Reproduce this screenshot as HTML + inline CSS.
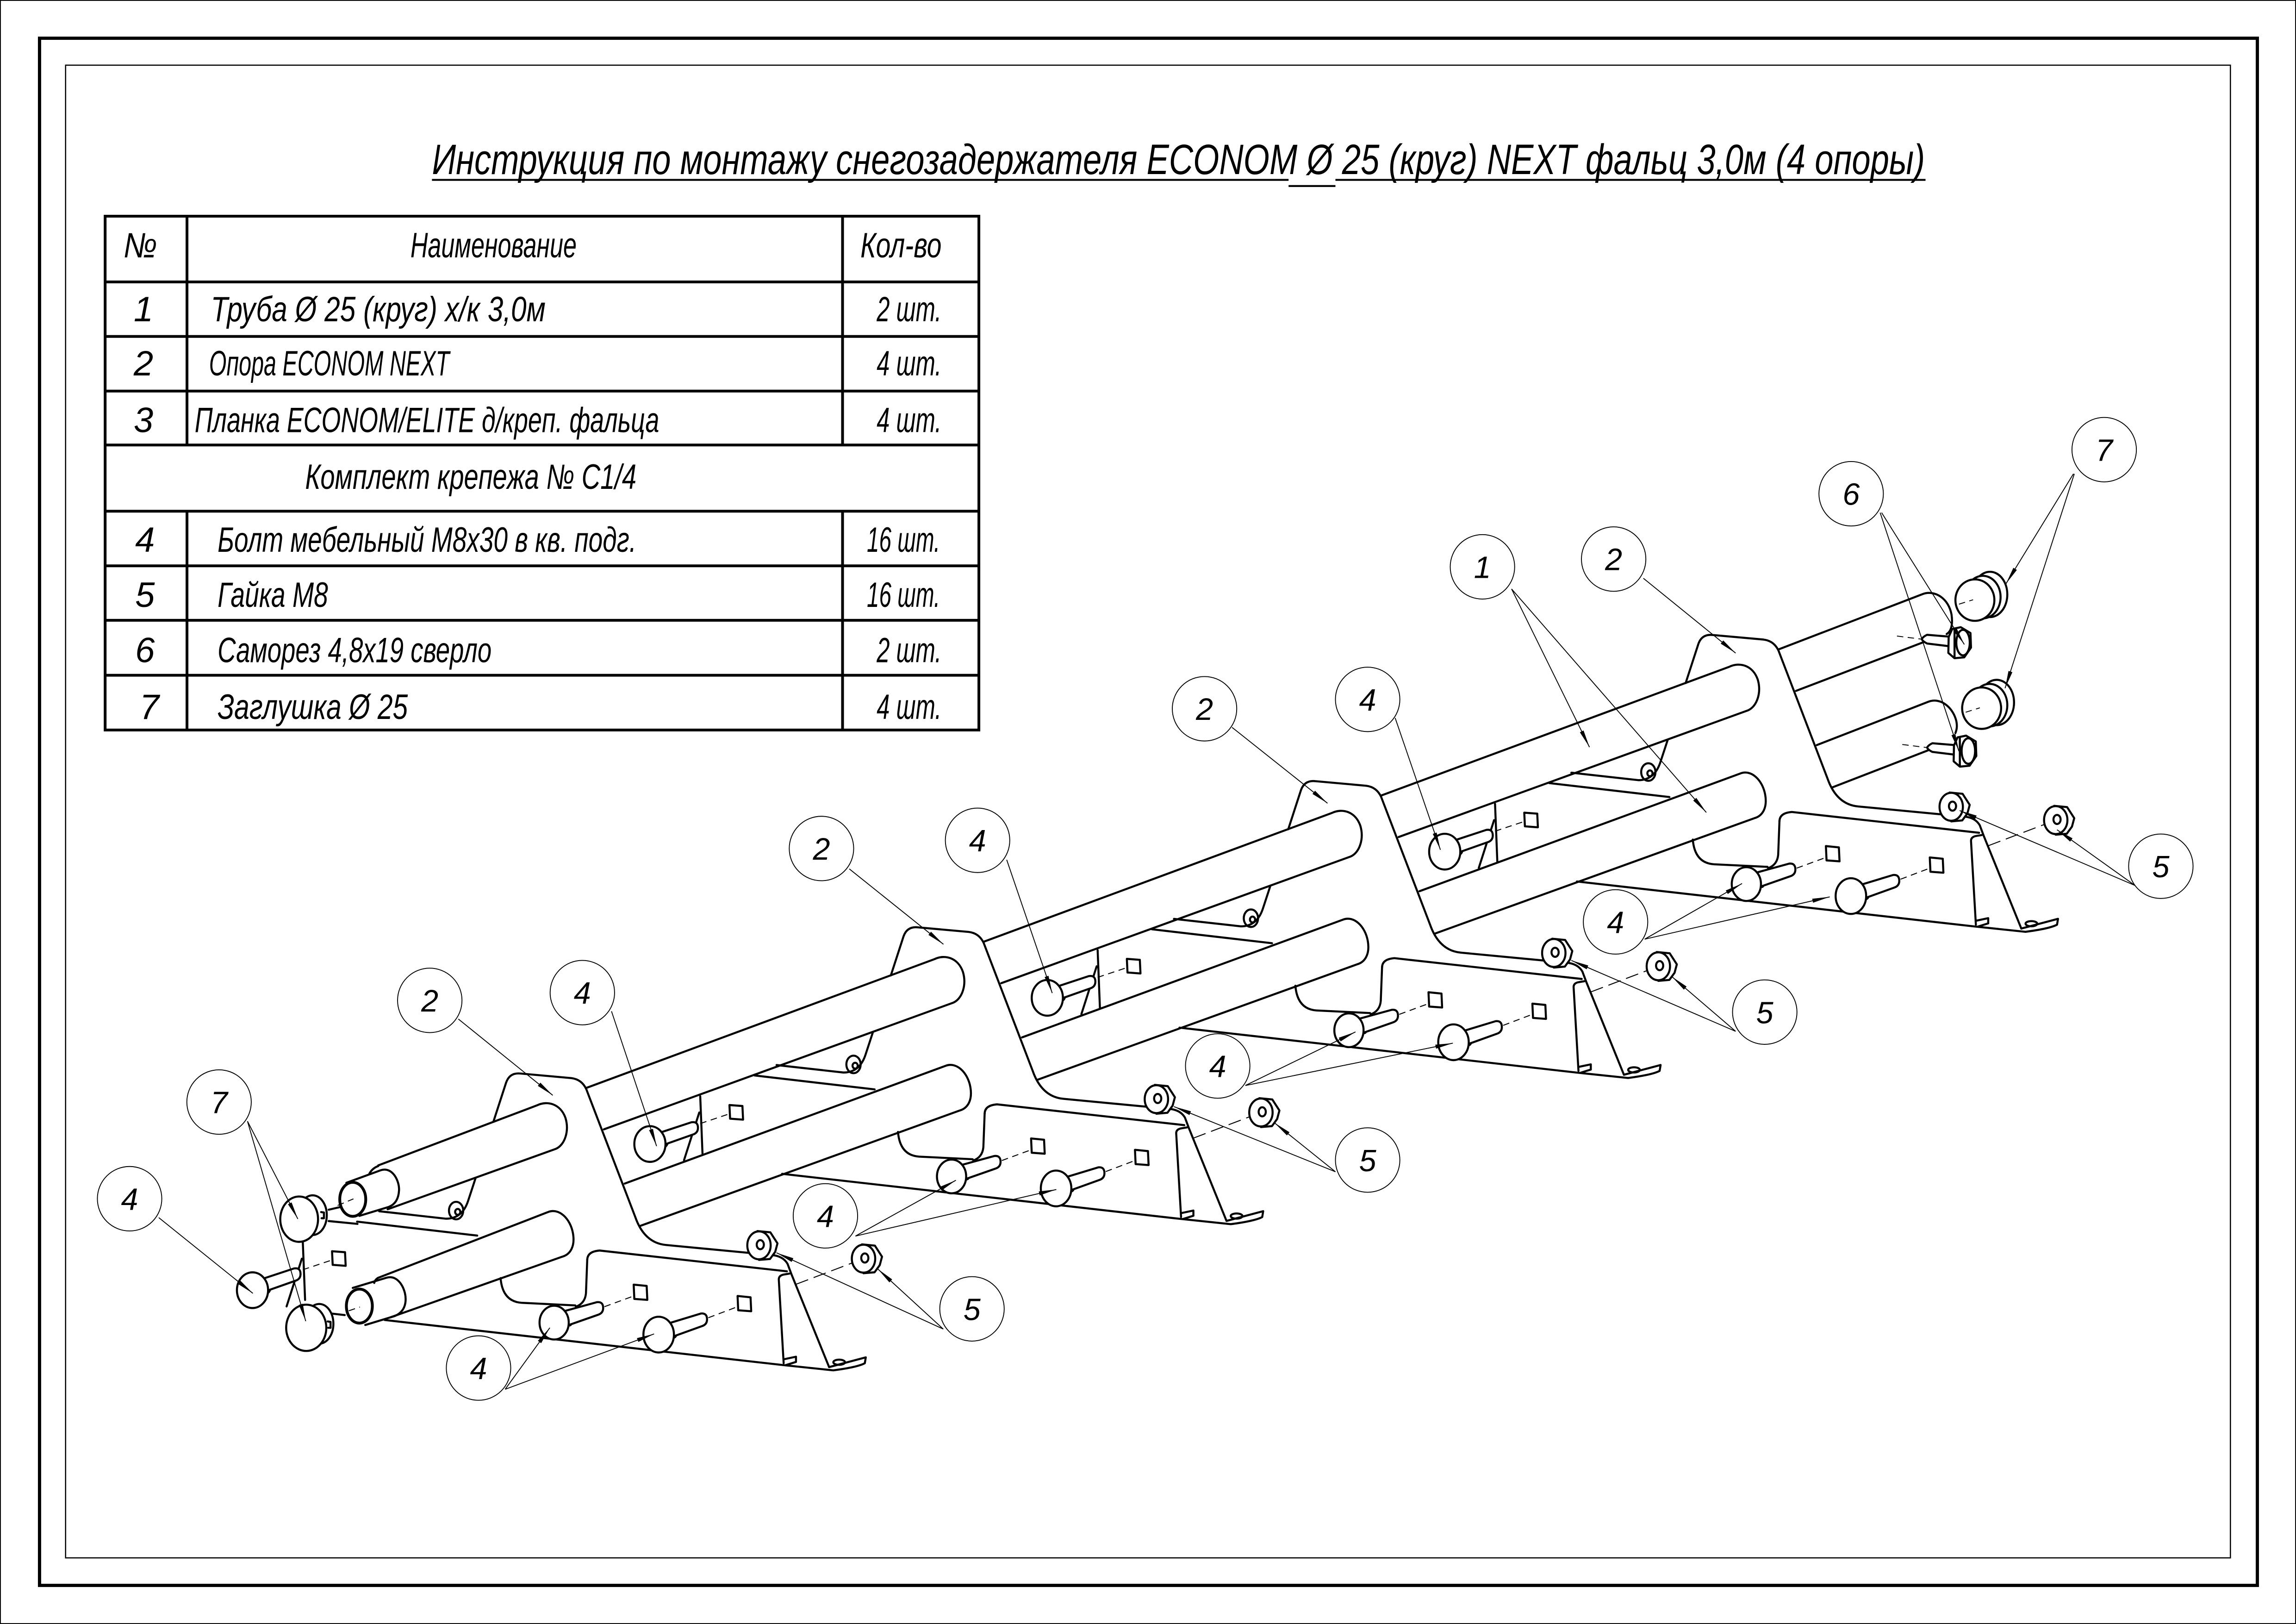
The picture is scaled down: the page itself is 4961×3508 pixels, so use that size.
<!DOCTYPE html>
<html><head><meta charset="utf-8">
<style>
html,body{margin:0;padding:0;background:#fff}
svg{display:block}
.t{fill:none;stroke:#000;stroke-width:6.3;stroke-linecap:round;stroke-linejoin:round}
.w{fill:#fff;stroke:#000;stroke-width:6.3;stroke-linejoin:round}
.d{fill:none;stroke:#000;stroke-width:3;stroke-dasharray:20 14}
.dl{fill:none;stroke:#000;stroke-width:3;stroke-dasharray:40 18}
.t8{fill:none;stroke:#000;stroke-width:8.7;stroke-linecap:round;stroke-linejoin:round}
.w8{fill:#fff;stroke:#000;stroke-width:8.7;stroke-linejoin:round}
.d8{fill:none;stroke:#000;stroke-width:4;stroke-dasharray:28 19}
.t9{fill:none;stroke:#000;stroke-width:11.6;stroke-linecap:round;stroke-linejoin:round}
.w9{fill:#fff;stroke:#000;stroke-width:11.6;stroke-linejoin:round}
.d9{fill:none;stroke:#000;stroke-width:5;stroke-dasharray:36 25}
.ld{fill:none;stroke:#000;stroke-width:0.6}
.lc{fill:none;stroke:#000;stroke-width:0.6}
.tb{fill:none;stroke:#000;stroke-width:1.9}
text{font-family:"Liberation Sans","DejaVu Sans",sans-serif;font-style:italic;fill:#000}
</style></head><body>
<svg xmlns="http://www.w3.org/2000/svg" width="4961" height="3508" viewBox="0 0 1568 1108.75" preserveAspectRatio="none">
<defs>
<marker id="a" markerUnits="userSpaceOnUse" markerWidth="12" markerHeight="4" refX="12" refY="2" orient="auto" viewBox="0 0 12 4" overflow="visible"><path d="M0,0.6 L12,2 L0,3.4 Z" fill="#000"/></marker>
<g id="uL">
<path class="t" d="M218,666 L257,546 Q268,514 302,518 L458,532 Q490,536 504,566 L655,960 Q683,1040 750,1046 L1076,1077 Q1110,1080 1124,1104 L1136,1136 L1252,1422"/>
<path class="t" d="M163,840 L140,910 Q122,965 72,965 L-134,942"/>
<path class="t" d="M-202,974 L168,1017"/>
<path class="t" d="M240,1148 Q246,1220 305,1224 L470,1232"/>
<path class="t" d="M507,1092 Q507,1066 545,1063 L1122,1127"/>
<path class="t" d="M507,1090 L503,1195 Q500,1226 472,1236"/>
<path class="t" d="M-117,1277 L1112,1416 L1265,1432 Q1340,1422 1362,1410 L1365,1392 L1252,1422"/>
<ellipse class="t" cx="1283" cy="1407" rx="18" ry="8"/>
<path class="t" d="M1112,1410 L1097,1152 Q1097,1140 1112,1137 L1130,1134"/>
<path class="t" d="M1112,1398 L1150,1390 L1150,1406 L1118,1416"/>
<path class="t" d="M650,1168 L690,1172 L692,1215 L652,1212 Z"/>
<path class="t" d="M970,1203 L1010,1207 L1012,1250 L972,1247 Z"/>
<ellipse class="t" cx="103" cy="940" rx="22" ry="27"/>
<ellipse class="t" cx="108" cy="944" rx="8" ry="9"/>
<path class="d" d="M560,1236 L650,1203 M880,1270 L970,1236"/>
<path class="dl" d="M1150,1167 L1358,1088"/>
<path class="d" d="M1000,1068 L1036,1047"/>
</g>
<g id="nut">
<path class="w" d="M-5,-44 L35,-40 L57,-6 L50,20 L34,42 L0,45 Z"/>
<ellipse class="w" cx="0" cy="0" rx="36" ry="43"/>
<ellipse class="t" cx="4" cy="-2" rx="11" ry="14"/>
</g>
<g id="uF">
<ellipse class="t" cx="452" cy="1272" rx="10" ry="22"/>
<path class="w" d="M435,1250 L537,1222 Q556,1220 556,1240 Q556,1256 540,1261 L440,1296 Z"/>
<ellipse class="w" cx="405" cy="1285" rx="45" ry="52"/>
<ellipse class="t" cx="774" cy="1309" rx="10" ry="22"/>
<path class="w" d="M755,1288 L857,1257 Q876,1255 876,1275 Q876,1291 860,1296 L760,1332 Z"/>
<ellipse class="w" cx="727" cy="1322" rx="47" ry="55"/>
<use href="#nut" transform="translate(1036,1047)"/>
<use href="#nut" transform="translate(1358,1088)"/>
</g>
<g id="seg">
<path class="t" d="M-719,1012 L352,616 C385,600 425,612 440,655 C452,695 438,738 410,750 L-666,1140"/>
<path class="t" d="M-602,1307 L385,945 C420,930 455,965 463,1010 C470,1050 455,1075 430,1082 L-556,1438"/>
</g>
<g id="bb">
<path class="t" d="M855,588 L862,765"/>
<path class="t" d="M852,638 L805,785"/>
<path class="d" d="M855,672 L945,642"/>
<path class="t" d="M945,615 L985,618 L987,660 L947,657 Z"/>
<ellipse class="t" cx="746" cy="721" rx="10" ry="22"/>
<path class="w" d="M725,702 L828,668 Q848,665 848,685 Q848,701 832,706 L730,742 Z"/>
<ellipse class="w" cx="700" cy="735" rx="48" ry="55"/>
</g>
<g id="scr">
<path class="d9" d="M520,585 L655,602"/>
<path class="w9" d="M690,578 L812,588 L812,642 L690,627 Q664,614 660,602 Q668,588 690,578 Z"/>
<path class="w9" d="M812,590 L832,545 L880,535 L935,568 L938,650 L900,705 L845,710 L810,680 Z"/>
<path class="t9" d="M845,550 L845,708"/>
<ellipse class="t9" cx="893" cy="622" rx="38" ry="72"/>
</g>
<g id="cap">
<ellipse class="w9" cx="1045" cy="350" rx="98" ry="128"/>
<ellipse class="w9" cx="1005" cy="365" rx="100" ry="120"/>
<ellipse class="w9" cx="960" cy="382" rx="110" ry="117"/>
<path class="d9" d="M870,405 L950,380"/>
</g>
</defs>

<!-- frame -->
<rect x="0.3" y="0.3" width="1567.4" height="1108.15" fill="none" stroke="#000" stroke-width="0.6"/>
<rect x="27" y="26.1" width="1514.6" height="1056.3" fill="none" stroke="#000" stroke-width="2.2"/>
<rect x="44.8" y="44.5" width="1478.4" height="1019.1" fill="none" stroke="#000" stroke-width="0.8"/>

<!-- title -->
<text x="295" y="118.8" font-size="29" textLength="1019.6" lengthAdjust="spacingAndGlyphs">Инструкция по монтажу снегозадержателя ECONOM Ø 25 (круг) NEXT фальц 3,0м (4 опоры)</text>
<path d="M295,122.8 H880 M912,122.8 H1315 M880,127 H912" stroke="#000" stroke-width="1.3" fill="none"/>

<!-- table -->
<rect class="tb" x="71.8" y="147.6" width="596.7" height="350.8"/>
<path class="tb" d="M71.8,192.5 H668.5 M71.8,229.7 H668.5 M71.8,267 H668.5 M71.8,303.8 H668.5 M71.8,349 H668.5 M71.8,386.3 H668.5 M71.8,423.5 H668.5 M71.8,461 H668.5 M127.7,147.6 V303.8 M575.4,147.6 V303.8 M127.7,349 V498.4 M575.4,349 V498.4"/>
<g font-size="24">
<text x="84.3" y="175.8" textLength="23" lengthAdjust="spacingAndGlyphs">№</text>
<text x="280.3" y="175.8" textLength="113.5" lengthAdjust="spacingAndGlyphs">Наименование</text>
<text x="587.6" y="175.8" textLength="55.4" lengthAdjust="spacingAndGlyphs">Кол-во</text>
<text x="98" y="219.3" text-anchor="middle">1</text>
<text x="144" y="219.3" textLength="228.6" lengthAdjust="spacingAndGlyphs">Труба Ø 25 (круг) х/к 3,0м</text>
<text x="598.7" y="219.3" textLength="44.3" lengthAdjust="spacingAndGlyphs">2 шт.</text>
<text x="98" y="256.4" text-anchor="middle">2</text>
<text x="142.8" y="256.4" textLength="164.1" lengthAdjust="spacingAndGlyphs">Опора ECONOM NEXT</text>
<text x="598.7" y="256.4" textLength="44.3" lengthAdjust="spacingAndGlyphs">4 шт.</text>
<text x="98" y="295.1" text-anchor="middle">3</text>
<text x="133" y="295.1" textLength="317.2" lengthAdjust="spacingAndGlyphs">Планка ECONOM/ELITE д/креп. фальца</text>
<text x="598.7" y="295.1" textLength="44.3" lengthAdjust="spacingAndGlyphs">4 шт.</text>
<text x="208.4" y="333.8" textLength="226.2" lengthAdjust="spacingAndGlyphs">Комплект крепежа № С1/4</text>
<text x="99" y="376.7" text-anchor="middle">4</text>
<text x="148.6" y="376.7" textLength="286" lengthAdjust="spacingAndGlyphs">Болт мебельный М8х30 в кв. подг.</text>
<text x="592" y="376.7" textLength="50" lengthAdjust="spacingAndGlyphs">16 шт.</text>
<text x="99" y="414.4" text-anchor="middle">5</text>
<text x="148.6" y="414.4" textLength="75.4" lengthAdjust="spacingAndGlyphs">Гайка М8</text>
<text x="592" y="414.4" textLength="50" lengthAdjust="spacingAndGlyphs">16 шт.</text>
<text x="99" y="452.2" text-anchor="middle">6</text>
<text x="148.6" y="452.2" textLength="187.1" lengthAdjust="spacingAndGlyphs">Саморез 4,8х19 сверло</text>
<text x="598.7" y="452.2" textLength="44.3" lengthAdjust="spacingAndGlyphs">2 шт.</text>
<text x="102" y="490.8" text-anchor="middle">7</text>
<text x="148.6" y="490.8" textLength="129.9" lengthAdjust="spacingAndGlyphs">Заглушка Ø 25</text>
<text x="598.7" y="490.8" textLength="44.3" lengthAdjust="spacingAndGlyphs">4 шт.</text>
</g>

<!-- ===== drawing: lines ===== -->
<g transform="translate(288.65,618.1) scale(0.2217)">
<use href="#uL"/>
<path class="t" d="M-137,801 L352,616 C385,600 425,612 440,655 C452,695 438,738 410,750 L-108,936"/>
<path class="t" d="M-137,1147 L385,945 C420,930 455,965 463,1010 C470,1050 455,1075 430,1082 L-100,1269"/>
</g>
<g transform="translate(560.05,518.3) scale(0.2217)"><use href="#uL"/><use href="#seg"/></g>
<g transform="translate(831.45,418.5) scale(0.2217)"><use href="#uL"/><use href="#seg"/></g>
<g transform="translate(1102.85,318.7) scale(0.2217)"><use href="#uL"/><use href="#seg"/>
<path class="t" d="M505,562 L948,392 C985,378 1028,405 1037,455 C1042,490 1034,508 1022,515"/>
<path class="t" d="M558,690 L956,538"/>
<path class="t" d="M622,857 L967,723 C1003,710 1040,740 1051,780 C1056,800 1052,812 1049,820"/>
<path class="t" d="M668,988 L978,868"/>
</g>

<!-- left end lines -->
<g transform="translate(142.22,711.1) scale(0.16125)">
<path class="t8" d="M720,527 Q695,536 682,560"/>
<path class="t8" d="M720,1000 Q706,1008 703,1022"/>
<path class="t8" d="M585,598 L730,545 C780,528 810,590 808,630 C806,668 790,690 765,700 L640,738"/>
<path class="t8" d="M612,1043 L755,1000 C805,985 836,1048 836,1090 C836,1130 815,1152 790,1162 L665,1200"/>
<path class="t8" d="M510,712 L562,700 M525,1152 L578,1158 M510,760 L632,772"/>
<ellipse class="w8" cx="612" cy="668" rx="55" ry="72" style="stroke-width:12"/>
<ellipse class="w8" cx="640" cy="1120" rx="55" ry="72" style="stroke-width:12"/>
<path class="d8" d="M548,694 L615,666 M595,1140 L642,1124"/>
</g>

<!-- ===== filled parts ===== -->
<g transform="translate(17.25,717.9) scale(0.2217)"><use href="#bb"/></g>
<g transform="translate(288.65,618.1) scale(0.2217)"><use href="#bb"/><use href="#uF"/></g>
<g transform="translate(560.05,518.3) scale(0.2217)"><use href="#bb"/><use href="#uF"/></g>
<g transform="translate(831.45,418.5) scale(0.2217)"><use href="#bb"/><use href="#uF"/></g>
<g transform="translate(1102.85,318.7) scale(0.2217)"><use href="#uF"/></g>

<!-- left caps -->
<g transform="translate(142.22,711.1) scale(0.16125)">
<ellipse class="w8" cx="442" cy="735" rx="60" ry="84"/>
<path class="t8" d="M478,722 L490,724 L490,748 L480,748"/>
<ellipse class="w8" cx="385" cy="752" rx="80" ry="96"/>
<ellipse class="w8" cx="470" cy="1195" rx="60" ry="84"/>
<path class="t8" d="M506,1185 L518,1187 L518,1212 L508,1212"/>
<ellipse class="w8" cx="415" cy="1212" rx="85" ry="98"/>
</g>

<!-- right end: screws and caps -->
<g transform="translate(1232.6,363.5) scale(0.12095)">
<use href="#scr"/>
<g transform="translate(30,612)"><use href="#scr"/></g>
<use href="#cap"/>
<g transform="translate(38,610)"><use href="#cap"/></g>
</g>

<!-- ===== leaders ===== -->
<g class="ld" marker-end="url(#a)">
<path class="ld" marker-end="url(#a)" d="M169,765.5 L203.4,832.2"/>
<path class="ld" marker-end="url(#a)" d="M169,765.5 L208.8,902"/>
<path class="ld" marker-end="url(#a)" d="M108.4,831.3 L172.7,883"/>
<path class="ld" marker-end="url(#a)" d="M313,695.7 L377.5,747.8"/>
<path class="ld" marker-end="url(#a)" d="M417.6,690.4 L448.4,782.5"/>
<path class="ld" marker-end="url(#a)" d="M345,948.5 L375.5,906.5"/>
<path class="ld" marker-end="url(#a)" d="M345,948.5 L446.7,910.7"/>
<path class="ld" marker-end="url(#a)" d="M644.2,907.4 L530.3,855.3"/>
<path class="ld" marker-end="url(#a)" d="M644.2,907.4 L599.5,866.4"/>
<path class="ld" marker-end="url(#a)" d="M580,593.2 L644.3,644.7"/>
<path class="ld" marker-end="url(#a)" d="M687.5,587 L718.6,678"/>
<path class="ld" marker-end="url(#a)" d="M584.2,843.9 L652.8,805.8"/>
<path class="ld" marker-end="url(#a)" d="M584.2,843.9 L721.4,812.1"/>
<path class="ld" marker-end="url(#a)" d="M912,800 L801.7,755.5"/>
<path class="ld" marker-end="url(#a)" d="M912,800 L870.4,766.6"/>
<path class="ld" marker-end="url(#a)" d="M841.4,496.6 L906.6,548.4"/>
<path class="ld" marker-end="url(#a)" d="M952.8,490.2 L983.7,580.2"/>
<path class="ld" marker-end="url(#a)" d="M850.5,741.1 L925.7,704.5"/>
<path class="ld" marker-end="url(#a)" d="M850.5,741.1 L992.2,712.2"/>
<path class="ld" marker-end="url(#a)" d="M1185.3,704.1 L1073.1,655.7"/>
<path class="ld" marker-end="url(#a)" d="M1185.3,704.1 L1141.8,666.8"/>
<path class="ld" marker-end="url(#a)" d="M1122.3,394.8 L1185.3,445.9"/>
<path class="ld" marker-end="url(#a)" d="M1032.3,402.1 L1085.5,510.1"/>
<path class="ld" marker-end="url(#a)" d="M1032.3,402.1 L1165.3,554.7"/>
<path class="ld" marker-end="url(#a)" d="M1123.2,641.2 L1189.7,603.2"/>
<path class="ld" marker-end="url(#a)" d="M1123.2,641.2 L1249.6,612.3"/>
<path class="ld" marker-end="url(#a)" d="M1458,604.5 L1338.3,553.4"/>
<path class="ld" marker-end="url(#a)" d="M1458,604.5 L1404.8,566.5"/>
<path class="ld" marker-end="url(#a)" d="M1285,350 L1341.5,440"/>
<path class="ld" marker-end="url(#a)" d="M1284,350 L1337.8,512.9"/>
<path class="ld" marker-end="url(#a)" d="M1416,323.5 L1369.9,398.6"/>
<path class="ld" marker-end="url(#a)" d="M1416.6,323.5 L1369.3,469.9"/>
</g>

<!-- ===== label circles ===== -->
<g font-size="21" text-anchor="middle">
<circle class="lc" cx="149.6" cy="752.4" r="22"/><text x="149.6" y="760">7</text>
<circle class="lc" cx="88.5" cy="818.4" r="22"/><text x="88.5" y="826">4</text>
<circle class="lc" cx="293.5" cy="683" r="22"/><text x="293.5" y="690.6">2</text>
<circle class="lc" cx="397.7" cy="677.7" r="22"/><text x="397.7" y="685.3">4</text>
<circle class="lc" cx="326.8" cy="934" r="22"/><text x="326.8" y="941.6">4</text>
<circle class="lc" cx="663.8" cy="893.6" r="22"/><text x="663.8" y="901.2">5</text>
<circle class="lc" cx="561" cy="579.3" r="22"/><text x="561" y="586.9">2</text>
<circle class="lc" cx="667.6" cy="573.7" r="22"/><text x="667.6" y="581.3">4</text>
<circle class="lc" cx="563.7" cy="830.1" r="22"/><text x="563.7" y="837.7">4</text>
<circle class="lc" cx="934" cy="792" r="22"/><text x="934" y="799.6">5</text>
<circle class="lc" cx="822.6" cy="483.9" r="22"/><text x="822.6" y="491.5">2</text>
<circle class="lc" cx="934" cy="477.5" r="22"/><text x="934" y="485.1">4</text>
<circle class="lc" cx="831.6" cy="727.8" r="22"/><text x="831.6" y="735.4">4</text>
<circle class="lc" cx="1205.2" cy="691" r="22"/><text x="1205.2" y="698.6">5</text>
<circle class="lc" cx="1102" cy="381.7" r="22"/><text x="1102" y="389.3">2</text>
<circle class="lc" cx="1012.4" cy="387" r="22"/><text x="1012.4" y="394.6">1</text>
<circle class="lc" cx="1103.3" cy="629.4" r="22"/><text x="1103.3" y="637">4</text>
<circle class="lc" cx="1475.7" cy="591.4" r="22"/><text x="1475.7" y="599">5</text>
<circle class="lc" cx="1264.2" cy="337.1" r="22"/><text x="1264.2" y="344.7">6</text>
<circle class="lc" cx="1437" cy="307" r="22"/><text x="1437" y="314.6">7</text>
</g>
</svg>
</body></html>
